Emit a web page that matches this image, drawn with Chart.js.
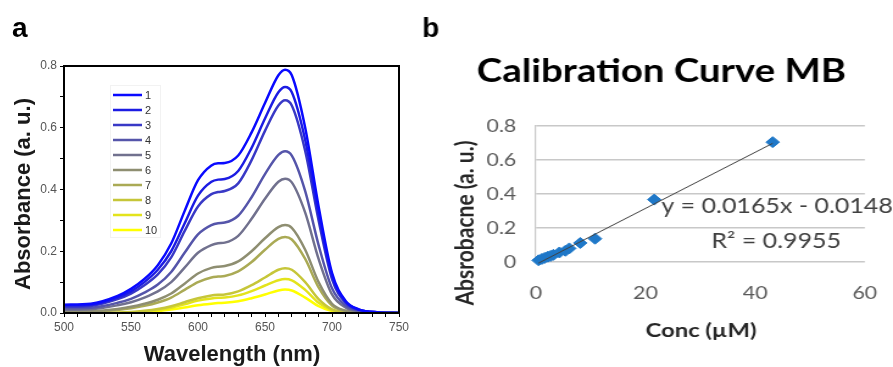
<!DOCTYPE html>
<html>
<head>
<meta charset="utf-8">
<script src="https://cdn.jsdelivr.net/npm/chart.js@4.4.0/dist/chart.umd.min.js"></script>
<style>
    html, body { margin: 0; padding: 0; background: #fff; }
    #wrap { position: relative; width: 893px; height: 367px; overflow: hidden; }
    #boxA { position: absolute; left: 0; top: 0; width: 420px; height: 367px; }
    /* el panel b original está estirado en horizontal */
    #boxB { position: absolute; left: 420px; top: 0; width: 388px; height: 367px;
            transform: scaleX(1.2191); transform-origin: 0 0; }
</style>
</head>
<body>
<div id="wrap">
    <div id="boxA"><canvas id="spectraChart"></canvas></div>
    <div id="boxB"><canvas id="calibChart"></canvas></div>
</div>
<script>
// Panel a: espectros de absorbancia
const wavelengths = [500, 520, 540, 550, 560, 570, 580, 590, 600, 610, 615, 620, 630, 640, 650, 660, 665, 670, 680, 690, 700, 710, 720, 735, 750];

const abs1 = [0.027, 0.030, 0.055, 0.078, 0.110, 0.155, 0.225, 0.330, 0.430, 0.478, 0.485, 0.486, 0.510, 0.585, 0.680, 0.770, 0.788, 0.770, 0.600, 0.345, 0.130, 0.040, 0.012, 0.002, 0];
const abs2 = [0.025, 0.027, 0.050, 0.070, 0.100, 0.140, 0.200, 0.290, 0.380, 0.425, 0.432, 0.434, 0.460, 0.535, 0.630, 0.715, 0.732, 0.715, 0.560, 0.320, 0.120, 0.037, 0.011, 0.002, 0];
const abs3 = [0.020, 0.023, 0.045, 0.063, 0.090, 0.125, 0.180, 0.265, 0.345, 0.385, 0.392, 0.395, 0.420, 0.495, 0.590, 0.672, 0.689, 0.672, 0.525, 0.300, 0.110, 0.033, 0.010, 0.002, 0];
const abs4 = [0.015, 0.017, 0.033, 0.046, 0.066, 0.092, 0.133, 0.195, 0.255, 0.285, 0.291, 0.293, 0.315, 0.375, 0.450, 0.512, 0.524, 0.510, 0.395, 0.220, 0.080, 0.024, 0.007, 0.001, 0];
const abs5 = [0.010, 0.012, 0.025, 0.035, 0.050, 0.070, 0.100, 0.147, 0.195, 0.220, 0.226, 0.228, 0.250, 0.305, 0.370, 0.425, 0.435, 0.423, 0.325, 0.175, 0.060, 0.018, 0.005, 0.001, 0];
const abs6 = [0.005, 0.006, 0.013, 0.020, 0.030, 0.043, 0.063, 0.095, 0.128, 0.146, 0.150, 0.152, 0.167, 0.200, 0.242, 0.278, 0.285, 0.276, 0.205, 0.100, 0.030, 0.008, 0.002, 0, 0];
const abs7 = [0.003, 0.004, 0.010, 0.015, 0.023, 0.034, 0.050, 0.075, 0.100, 0.115, 0.118, 0.120, 0.135, 0.165, 0.205, 0.240, 0.246, 0.238, 0.175, 0.083, 0.024, 0.006, 0.001, 0, 0];
const abs8 = [0, 0, 0.001, 0.003, 0.007, 0.013, 0.022, 0.035, 0.048, 0.057, 0.059, 0.060, 0.070, 0.090, 0.115, 0.140, 0.145, 0.140, 0.100, 0.045, 0.012, 0.002, 0, 0, 0];
const abs9 = [0, 0, 0, 0.002, 0.005, 0.010, 0.017, 0.028, 0.040, 0.047, 0.049, 0.050, 0.057, 0.071, 0.089, 0.106, 0.110, 0.106, 0.075, 0.033, 0.009, 0.002, 0, 0, 0];
const abs10 = [0, 0, 0, 0.001, 0.003, 0.006, 0.011, 0.018, 0.025, 0.030, 0.032, 0.033, 0.038, 0.048, 0.060, 0.073, 0.076, 0.073, 0.050, 0.022, 0.006, 0.001, 0, 0, 0];

const spectra = [abs1, abs2, abs3, abs4, abs5, abs6, abs7, abs8, abs9, abs10];
const spectraLabels = ['1', '2', '3', '4', '5', '6', '7', '8', '9', '10'];
const spectraColors = ['#0a0aff', '#1c1ce3', '#3939c6', '#5555aa', '#71718e', '#8e8e71', '#aaaa55', '#c6c639', '#e3e31c', '#ffff00'];

// Panel b: curva de calibración
const concs = [0.5, 1.1, 1.6, 2.2, 2.7, 3.2, 4.3, 5.4, 6.1, 8.1, 10.8, 21.6, 43.2];
const absMB = [0.010, 0.018, 0.024, 0.031, 0.036, 0.042, 0.056, 0.066, 0.080, 0.112, 0.137, 0.367, 0.705];
const slope = 0.0165;
const intercept = -0.0148;
const rSquared = '0.9955';
const trendX = [0.5, 43.2];

const yTicksA = [0, 0.2, 0.4, 0.6, 0.8];
const xTicksA = [500, 550, 600, 650, 700, 750];

const ARIAL = "'Liberation Sans', Arial, sans-serif";
const LATO = "Lato, 'Open Sans', sans-serif";
const STRETCH_B = 1.2191;

const spectraDecor = {
    id: 'spectraDecor',
    afterDraw(chart) {
        const ctx = chart.ctx;
        const a = chart.chartArea;
        ctx.save();
        // marco
        ctx.strokeStyle = '#000';
        ctx.lineWidth = 2;
        ctx.strokeRect(a.left, a.top, a.right - a.left, a.bottom - a.top);

        // leyenda
        ctx.strokeStyle = '#f2f2f2';
        ctx.lineWidth = 1;
        ctx.strokeRect(110.5, 85.5, 50, 152);
        ctx.font = '11px ' + ARIAL;
        ctx.textBaseline = 'middle';
        ctx.textAlign = 'left';
        chart.data.datasets.forEach((ds, i) => {
            const y = 95 + i * 15;
            ctx.strokeStyle = ds.borderColor;
            ctx.lineWidth = 2.5;
            ctx.beginPath();
            ctx.moveTo(113, y);
            ctx.lineTo(142, y);
            ctx.stroke();
            ctx.fillStyle = '#333';
            ctx.fillText(ds.label, 145, y + 1);
        });

        // títulos de ejes
        ctx.fillStyle = '#1a1a1a';
        ctx.font = 'bold 22px ' + ARIAL;
        ctx.textAlign = 'center';
        ctx.fillText('Wavelength (nm)', 232, 355);
        ctx.save();
        ctx.translate(24, 194);
        ctx.rotate(-Math.PI / 2);
        ctx.fillText('Absorbance (a. u.)', 0, 0);
        ctx.restore();

        ctx.fillStyle = '#000';
        ctx.font = 'bold 28px ' + ARIAL;
        ctx.textAlign = 'left';
        ctx.textBaseline = 'alphabetic';
        ctx.fillText('a', 12, 37);
        ctx.restore();
    }
};

new Chart(document.getElementById('spectraChart'), {
    type: 'line',
    data: {
        datasets: spectra.map((vals, i) => ({
            label: spectraLabels[i],
            data: wavelengths.map((w, j) => ({ x: w, y: vals[j] })),
            borderColor: spectraColors[i],
            borderWidth: 2.5,
            pointRadius: 0,
            cubicInterpolationMode: 'monotone',
            fill: false
        }))
    },
    options: {
        animation: false,
        responsive: true,
        maintainAspectRatio: false,
        layout: { padding: { top: 66, right: 21, left: 0, bottom: 0 } },
        plugins: { legend: { display: false }, tooltip: { enabled: false } },
        scales: {
            x: {
                type: 'linear',
                min: 500,
                max: 750,
                afterFit: (s) => { s.height = 54; },
                ticks: {
                    stepSize: 10,
                    autoSkip: false,
                    maxRotation: 0,
                    padding: 3,
                    color: '#555',
                    font: { family: ARIAL, size: 12 },
                    callback: (v) => xTicksA.includes(v) ? String(v) : ''
                },
                grid: { drawOnChartArea: false, tickLength: 4, color: '#000' },
                border: { color: '#000', width: 2 }
            },
            y: {
                min: 0,
                max: 0.8,
                afterFit: (s) => { s.width = 64; },
                ticks: {
                    stepSize: 0.1,
                    autoSkip: false,
                    padding: 3,
                    color: '#555',
                    font: { family: ARIAL, size: 12 },
                    callback: (v) => {
                        const r = Math.round(v * 10) / 10;
                        return yTicksA.some(t => Math.abs(t - r) < 1e-6) ? r.toFixed(1) : '';
                    }
                },
                grid: { drawOnChartArea: false, tickLength: 4, color: '#000' },
                border: { color: '#000', width: 2 }
            }
        }
    },
    plugins: [spectraDecor]
});

const calibDecor = {
    id: 'calibDecor',
    afterDraw(chart) {
        const ctx = chart.ctx;
        ctx.save();
        ctx.textBaseline = 'alphabetic';

        // la letra del panel no va estirada
        ctx.save();
        ctx.scale(1 / STRETCH_B, 1);
        ctx.fillStyle = '#000';
        ctx.font = 'bold 28px ' + ARIAL;
        ctx.textAlign = 'left';
        ctx.fillText('b', 2, 37);
        ctx.restore();

        ctx.fillStyle = '#000';
        ctx.font = 'bold 31.5px ' + LATO;
        ctx.textAlign = 'center';
        ctx.fillText('Calibration Curve MB', 198, 82);

        ctx.fillStyle = '#262626';
        ctx.font = 'bold 19.5px ' + LATO;
        ctx.fillText('Conc (\u00b5M)', 230.5, 337);
        ctx.save();
        ctx.font = 'bold 21px ' + LATO;
        ctx.translate(43.5, 223);
        ctx.rotate(-Math.PI / 2);
        ctx.fillText('Absrobacne (a. u.)', 0, 0);
        ctx.restore();

        ctx.fillStyle = '#404040';
        ctx.font = '20.5px ' + LATO;
        ctx.textAlign = 'left';
        ctx.fillText('y = ' + slope + 'x - ' + Math.abs(intercept), 198, 213);
        ctx.fillText('R\u00b2 = ' + rSquared, 239, 248);
        ctx.restore();
    }
};

new Chart(document.getElementById('calibChart'), {
    type: 'scatter',
    data: {
        datasets: [
            {
                label: 'Linear',
                type: 'line',
                data: trendX.map((x) => ({ x: x, y: slope * x + intercept })),
                borderColor: '#404040',
                borderWidth: 1,
                pointRadius: 0,
                clip: false,
                order: 0
            },
            {
                label: 'MB',
                data: concs.map((c, i) => ({ x: c, y: absMB[i] })),
                pointStyle: 'rectRot',
                pointRadius: 5.5,
                backgroundColor: '#1f78c8',
                borderColor: '#1f78c8',
                clip: false,
                order: 1
            }
        ]
    },
    options: {
        animation: false,
        responsive: true,
        maintainAspectRatio: false,
        layout: { padding: { top: 126, right: 19, left: 0, bottom: 0 } },
        plugins: { legend: { display: false }, tooltip: { enabled: false } },
        scales: {
            x: {
                min: 0,
                max: 60,
                afterFit: (s) => { s.height = 105; },
                ticks: {
                    stepSize: 20,
                    padding: 13,
                    maxRotation: 0,
                    color: '#595959',
                    font: { family: LATO, size: 17.5 }
                },
                grid: { display: false },
                border: { display: false }
            },
            y: {
                min: 0,
                max: 0.8,
                afterFit: (s) => { s.width = 95; },
                ticks: {
                    stepSize: 0.2,
                    padding: 16,
                    color: '#595959',
                    font: { family: LATO, size: 17.5 },
                    callback: (v) => v === 0 ? '0' : v.toFixed(1)
                },
                grid: { drawTicks: false, color: '#c8c8c8', lineWidth: 1.5 },
                border: { color: '#c8c8c8', width: 1.2 }
            }
        }
    },
    plugins: [calibDecor]
});
</script>
</body>
</html>
